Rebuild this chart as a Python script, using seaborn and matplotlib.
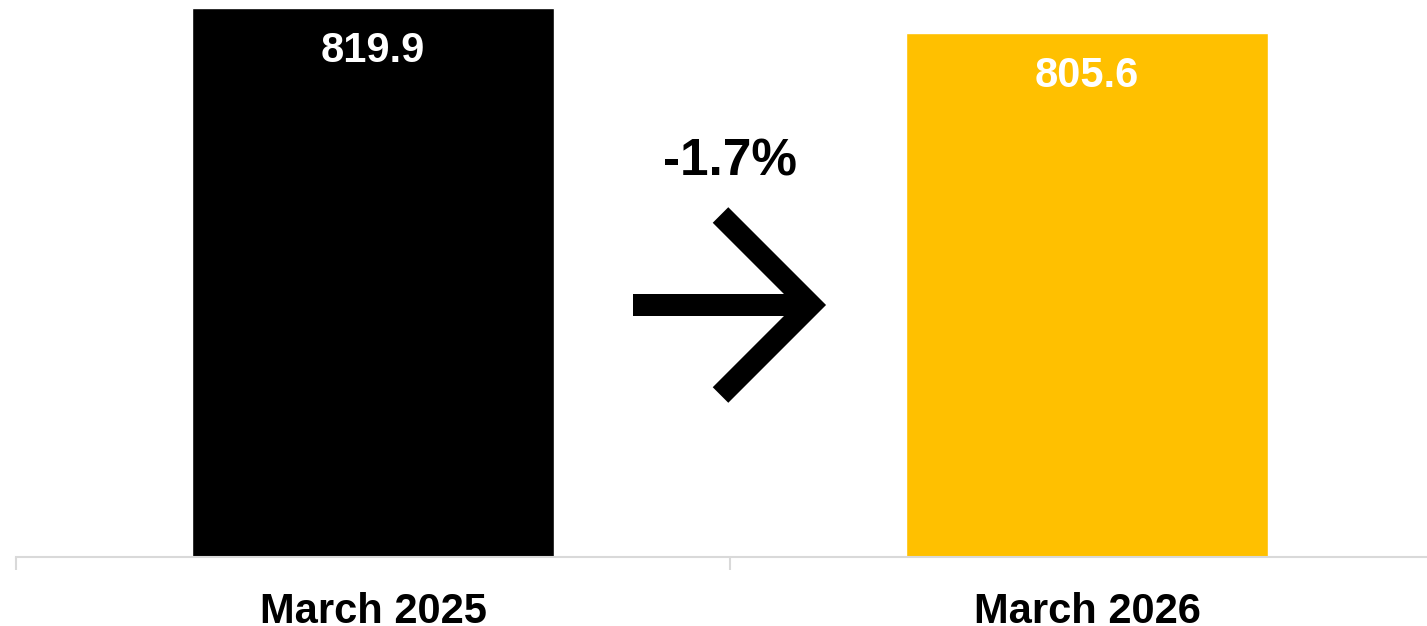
import matplotlib
matplotlib.use("Agg")
import matplotlib.pyplot as plt
import seaborn as sns
import pandas as pd

# Chart values
periods = ["March 2025", "March 2026"]
values = [819.9, 805.6]
bar_colors = ["#000000", "#FFC000"]

sns.set_theme(style="white")
plt.rcParams['font.family'] = ['Liberation Sans', 'DejaVu Sans']

df = pd.DataFrame({'period': periods, 'value': values})

fig = plt.figure(figsize=(14.27, 6.26), dpi=100)
# axes spans from the left baseline tick to past the right edge
ax = fig.add_axes([16 / 1427, 69 / 626, 1428 / 1427, 557 / 626])

sns.barplot(data=df, x='period', y='value', hue='period', palette=bar_colors,
            width=0.506, legend=False, saturation=1, ax=ax)

ax.set_ylim(500, 824.6)
ax.set_xlim(-0.5, 1.5)

# Value labels inside the bar tops
offsets = [-31.0, -31.5]
for i, v in enumerate(values):
    ax.annotate(f"{v:.1f}", xy=(i, v), xytext=(0, offsets[i]), textcoords='offset points',
                ha='center', va='center', color='white', fontsize=30, fontweight='bold')

# Percentage change between the two bars
change = (values[1] / values[0] - 1) * 100
ax.text(0.5, 0.709, f"{change:.1f}%", transform=ax.transAxes, ha='center', va='center',
        fontsize=37, fontweight='bold', color='black')

# Arrow drawn in axes-fraction space
def fx(px):
    return (px - 16) / 1428

def fy(py):
    return (557 - py) / 557

lw = 22 * 72 / 100
ax.plot([fx(633), fx(806)], [fy(305), fy(305)], color='black', lw=lw,
        solid_capstyle='butt', transform=ax.transAxes, clip_on=False)
ax.plot([fx(720.5), fx(810.5), fx(720.5)], [fy(215), fy(305), fy(395)], color='black', lw=lw,
        solid_capstyle='butt', solid_joinstyle='miter', transform=ax.transAxes, clip_on=False)

# Axes styling: only a light grey baseline with category boundary ticks
for side in ['left', 'right', 'top']:
    ax.spines[side].set_visible(False)
ax.spines['bottom'].set_color('#D9D9D9')
ax.spines['bottom'].set_linewidth(1.5)
ax.set_yticks([])
ax.set_xlabel('')
ax.set_ylabel('')
ax.set_xticks([0, 1])
ax.set_xticklabels(periods, fontsize=30, fontweight='bold', color='black')
ax.set_xticks([-0.5, 0.5, 1.5], minor=True)
ax.tick_params(axis='x', which='major', length=0, pad=25)
ax.tick_params(axis='x', which='minor', length=9.5, width=1.5, color='#D9D9D9', bottom=True)

fig.savefig('out.png', dpi=100)
